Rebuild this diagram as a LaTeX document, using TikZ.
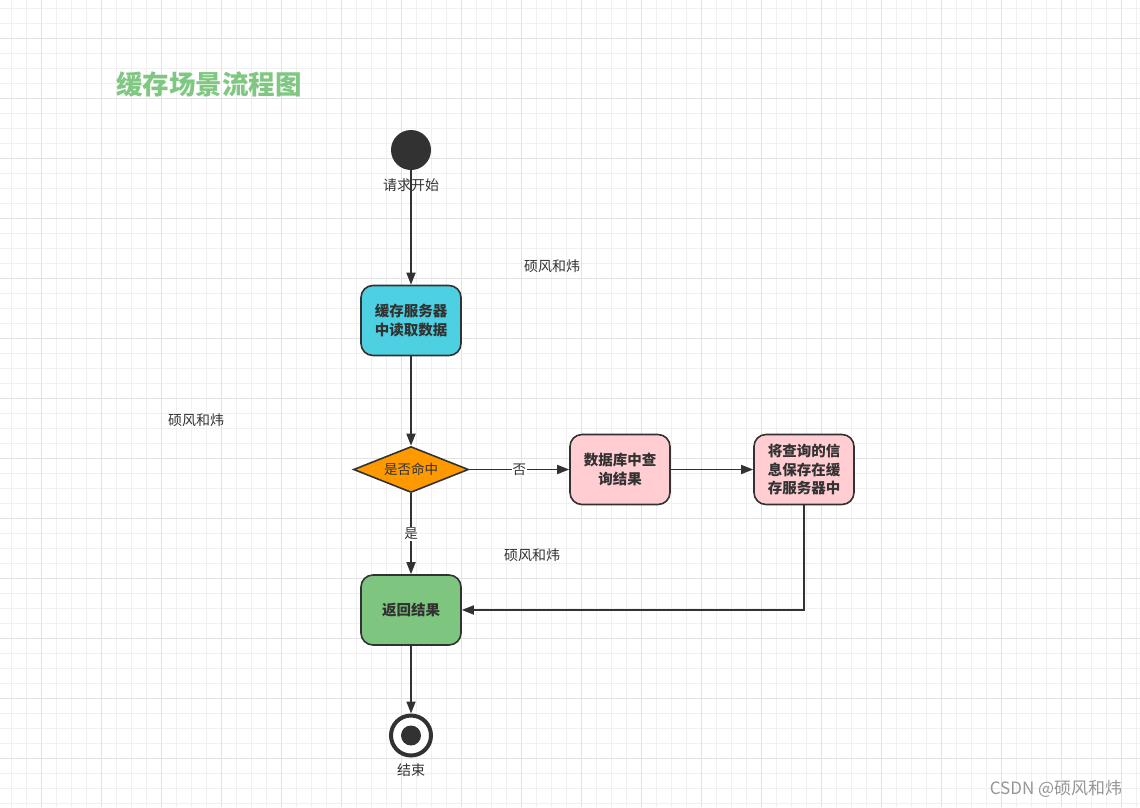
\documentclass[tikz,border=0pt]{standalone}
\usepackage{fontspec}
\newfontfamily\cjk{Noto Sans CJK SC}
\usetikzlibrary{shapes.geometric}
\usetikzlibrary{arrows.meta}

\definecolor{linegray}{RGB}{50,50,50}
\definecolor{gridminor}{RGB}{240,240,240}
\definecolor{gridmajor}{RGB}{226,226,226}
\definecolor{cachecyan}{RGB}{77,208,225}
\definecolor{hitorange}{RGB}{255,153,0}
\definecolor{dbpink}{RGB}{255,205,210}
\definecolor{resultgreen}{RGB}{126,198,128}
\definecolor{titlegreen}{RGB}{128,200,130}
\definecolor{markgray}{RGB}{150,150,150}

\begin{document}
\begin{tikzpicture}[x=1pt,y=-1pt,font=\cjk,
    stepbox/.style={draw=linegray, line width=1.6pt, rounded corners=12pt,
        minimum width=100pt, minimum height=70pt, inner sep=2pt, align=center,
        text=linegray, font=\cjk\bfseries\fontsize{14.5}{18.5}\selectfont},
    choice/.style={diamond, draw=linegray, line width=1.6pt, fill=hitorange,
        aspect=2.5, inner sep=0pt, minimum width=115pt, minimum height=46pt,
        text=linegray, font=\cjk\fontsize{13.5}{16}\selectfont},
    startdot/.style={circle, fill=linegray, minimum size=40pt, inner sep=0pt},
    enddot/.style={circle, draw=linegray, line width=4pt, fill=white, minimum size=40pt, inner sep=0pt},
    endcore/.style={circle, fill=linegray, minimum size=20pt, inner sep=0pt},
    plaintext/.style={text=linegray, inner sep=0pt, font=\cjk\fontsize{14}{16}\selectfont},
    edgelabel/.style={fill=white, text=linegray, inner sep=1pt, font=\cjk\fontsize{13.5}{16}\selectfont},
    flow/.style={draw=linegray, line width=1.7pt, -{Triangle[length=12pt,width=9pt]}}]

    % Page and background grid:
    \useasboundingbox (0,0) rectangle (1140,807);
    \fill [white] (0,0) rectangle (1140,807);
    \foreach \i in {0,...,75}
        \draw [gridminor, line width=1pt] (11.7+15*\i,0) -- (11.7+15*\i,807);
    \foreach \i in {0,...,53}
        \draw [gridminor, line width=1pt] (0,8.3+15*\i) -- (1140,8.3+15*\i);
    \foreach \i in {0,...,18}
        \draw [gridmajor, line width=1pt] (41.7+60*\i,0) -- (41.7+60*\i,807);
    \foreach \i in {0,...,12}
        \draw [gridmajor, line width=1pt] (0,38.3+60*\i) -- (1140,38.3+60*\i);

    % Title:
    \node [text=titlegreen, font=\cjk\bfseries\fontsize{26.5}{30}\selectfont] (title) at (209,84) {缓存场景流程图};

    % Start and end points:
    \node [startdot] (start) at (411,150) {};
    \node [plaintext] (startlabel) at (411,185) {请求开始};
    \node [enddot] (finish) at (411,735.5) {};
    \node [endcore] (finishcore) at (411,735.5) {};
    \node [plaintext] (finishlabel) at (411,770) {结束};

    % Steps:
    \node [stepbox, fill=cachecyan] (readcache) at (411,320.5) {缓存服务器\\中读取数据};
    \node [choice] (hit) at (411,469.5) {是否命中};
    \node [stepbox, fill=dbpink] (querydb) at (620,469.5) {数据库中查\\询结果};
    \node [stepbox, fill=dbpink] (savecache) at (804,469.5) {将查询的信\\息保存在缓\\存服务器中};
    \node [stepbox, fill=resultgreen] (result) at (411,610) {返回结果};

    % Connectors:
    \draw [flow] (start) -- (readcache);
    \draw [flow] (readcache) -- (hit);
    \draw [flow] (hit) -- node [edgelabel] {否} (querydb);
    \draw [flow] (querydb) -- (savecache);
    \draw [flow] (savecache) |- (result);
    \draw [flow] (hit) -- node [edgelabel] {是} (result);
    \draw [flow] (result) -- (finish);

    % Watermarks:
    \node [plaintext] (markone) at (552,266) {硕风和炜};
    \node [plaintext] (marktwo) at (196,420) {硕风和炜};
    \node [plaintext] (markthree) at (532,555) {硕风和炜};
    \node [text=markgray, inner sep=0pt, font=\cjk\fontsize{17}{20}\selectfont] (csdnmark) at (1056,789) {CSDN @硕风和炜};
\end{tikzpicture}
\end{document}
